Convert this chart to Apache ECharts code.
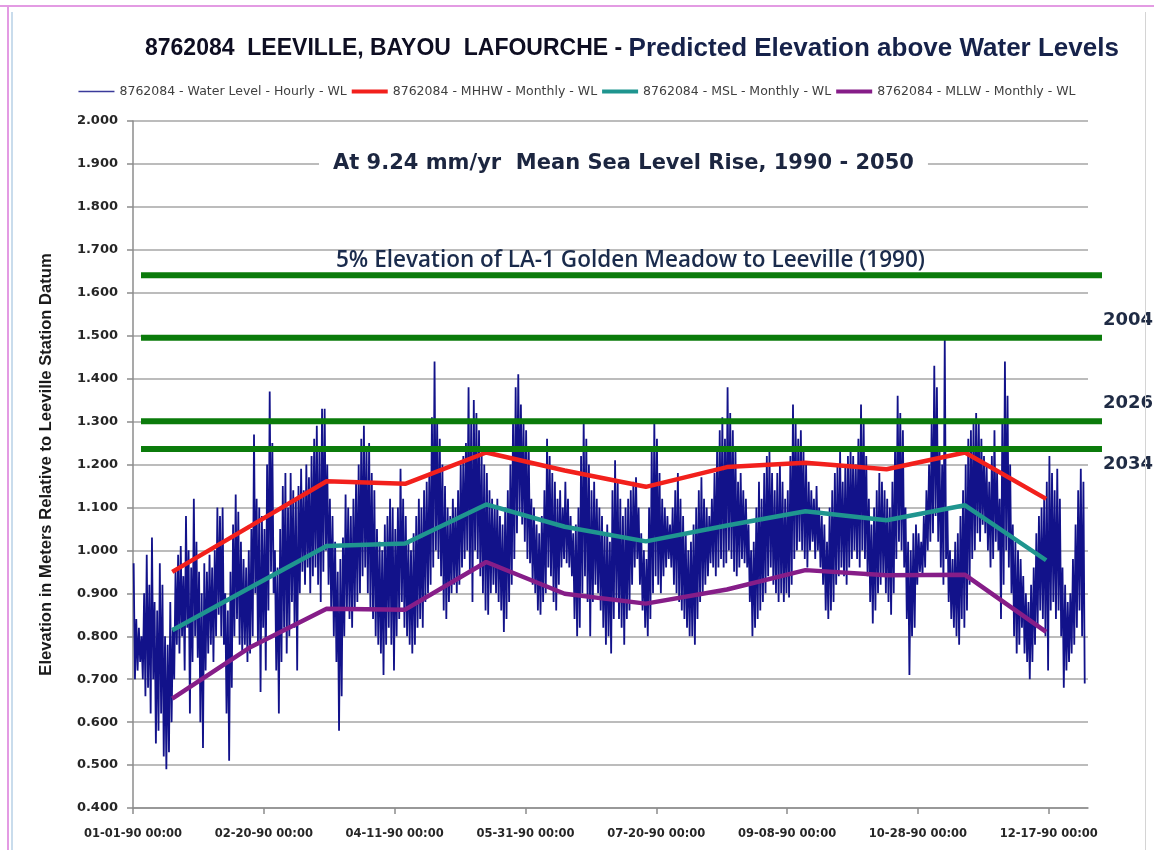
<!DOCTYPE html>
<html>
<head>
<meta charset="utf-8">
<title>8762084 Leeville, Bayou Lafourche</title>
<script src="https://cdn.jsdelivr.net/npm/echarts@6/dist/echarts.min.js"></script>
<style>
  html, body { margin: 0; padding: 0; background: #fff; }
  #chart { position: absolute; left: 0; top: 0; width: 1154px; height: 850px; }
  .edge { position: absolute; }
</style>
</head>
<body>
<div id="chart"></div>
<!-- excel selection frame -->
<div class="edge" style="left:0;top:5px;width:1154px;height:2px;background:#e39be3"></div>
<div class="edge" style="left:7px;top:5px;width:2px;height:845px;background:#e39be3"></div>
<div class="edge" style="left:11px;top:12px;width:2px;height:838px;background:#c9dcec"></div>
<div class="edge" style="left:1145px;top:12px;width:1px;height:838px;background:#d4d4d4"></div>
<script>
var dailyHigh = [
  0.97,0.84,0.82,0.80,0.90,0.99,0.92,1.03,0.88,0.86,
  0.97,0.92,0.80,0.78,0.88,0.82,0.95,0.99,1.01,0.94,
  1.08,1.00,0.96,1.12,1.02,0.95,0.90,0.97,0.95,0.99,
  0.96,1.00,1.10,1.08,1.10,0.90,0.86,0.95,1.06,1.13,
  1.09,1.02,0.98,0.96,1.00,1.05,1.27,1.12,1.10,1.08,
  1.05,1.20,1.37,1.25,1.00,0.96,1.05,1.15,1.18,1.10,
  1.18,1.14,1.12,1.15,1.19,1.14,1.20,1.17,1.22,1.26,
  1.29,1.24,1.33,1.33,1.20,1.12,1.08,1.02,0.95,0.98,
  1.03,1.13,1.10,1.08,1.12,1.16,1.20,1.26,1.29,1.24,
  1.25,1.18,1.14,1.05,1.02,1.00,1.06,1.08,1.12,1.10,
  1.05,1.10,1.19,1.12,1.08,1.02,1.00,1.04,1.08,1.12,
  1.10,1.14,1.16,1.18,1.31,1.44,1.30,1.26,1.20,1.15,
  1.10,1.08,1.12,1.10,1.14,1.20,1.22,1.25,1.38,1.30,
  1.35,1.32,1.28,1.22,1.20,1.18,1.14,1.12,1.10,1.12,
  1.08,1.06,1.10,1.14,1.20,1.30,1.38,1.41,1.34,1.30,
  1.28,1.24,1.12,1.10,1.06,1.04,1.08,1.14,1.26,1.22,
  1.18,1.16,1.12,1.14,1.10,1.16,1.12,1.08,1.04,1.06,
  1.10,1.22,1.30,1.26,1.20,1.14,1.16,1.12,1.10,1.08,
  1.04,1.06,1.02,1.14,1.21,1.16,1.12,1.08,1.10,1.12,
  1.14,1.16,1.17,1.10,1.04,1.00,0.98,1.10,1.24,1.30,
  1.26,1.18,1.12,1.10,1.08,1.06,1.10,1.14,1.18,1.12,
  1.08,1.04,1.00,1.02,1.06,1.10,1.14,1.17,1.12,1.10,
  1.08,1.12,1.18,1.24,1.28,1.31,1.26,1.38,1.32,1.28,
  1.24,1.16,1.18,1.14,1.12,1.06,1.00,1.02,1.10,1.16,
  1.12,1.18,1.22,1.23,1.18,1.14,1.18,1.20,1.16,1.12,
  1.14,1.22,1.34,1.30,1.26,1.28,1.24,1.20,1.16,1.14,
  1.12,1.15,1.10,1.08,1.06,1.02,1.10,1.14,1.18,1.20,
  1.23,1.16,1.20,1.22,1.24,1.22,1.20,1.26,1.34,1.30,
  1.22,1.12,1.06,1.10,1.14,1.18,1.16,1.14,1.12,1.10,
  1.16,1.24,1.36,1.32,1.28,1.10,1.02,1.00,1.04,1.06,
  1.04,1.02,1.08,1.14,1.20,1.30,1.43,1.38,1.24,1.20,
  1.49,1.10,1.00,0.98,1.02,1.04,1.08,1.14,1.20,1.26,
  1.28,1.30,1.32,1.30,1.26,1.22,1.20,1.16,1.22,1.28,
  1.18,1.12,1.30,1.44,1.36,1.20,1.06,1.02,1.00,0.98,
  0.94,0.90,0.88,0.92,0.96,1.04,1.08,1.10,1.12,1.16,
  1.22,1.18,1.14,1.19,1.12,0.96,0.92,0.88,0.90,0.98,
  1.06,1.14,1.19,1.16
];
var dailyLow = [
  0.70,0.72,0.74,0.70,0.66,0.68,0.62,0.70,0.55,0.58,
  0.62,0.52,0.49,0.53,0.60,0.70,0.78,0.76,0.80,0.72,
  0.82,0.62,0.74,0.80,0.75,0.60,0.54,0.72,0.76,0.78,
  0.74,0.80,0.85,0.80,0.78,0.62,0.51,0.68,0.80,0.84,
  0.78,0.76,0.78,0.74,0.76,0.80,0.90,0.78,0.67,0.82,
  0.72,0.86,0.95,0.90,0.72,0.62,0.74,0.82,0.76,0.80,
  0.88,0.82,0.72,0.90,0.95,0.92,0.96,0.90,0.94,0.96,
  0.92,0.88,0.95,1.00,0.92,0.86,0.80,0.74,0.58,0.66,
  0.80,0.86,0.84,0.82,0.86,0.88,0.90,0.94,0.96,0.90,
  0.86,0.84,0.80,0.78,0.76,0.71,0.78,0.82,0.78,0.72,
  0.80,0.84,0.88,0.82,0.80,0.78,0.76,0.78,0.82,0.84,
  0.82,0.88,0.90,0.92,0.96,1.00,0.98,0.94,0.86,0.84,
  0.88,0.90,0.92,0.90,0.92,0.96,0.98,1.00,0.95,0.88,
  1.00,0.98,0.94,0.90,0.86,0.85,0.90,0.92,0.90,0.88,
  0.86,0.81,0.84,0.88,0.92,0.98,1.04,1.08,1.06,1.02,
  0.98,0.97,0.92,0.90,0.86,0.85,0.88,0.90,0.96,0.94,
  0.88,0.86,0.92,0.96,0.98,0.97,0.96,0.94,0.84,0.80,
  0.82,0.90,0.94,0.88,0.80,0.88,0.92,0.90,0.86,0.82,
  0.78,0.80,0.76,0.84,0.88,0.84,0.82,0.78,0.84,0.86,
  0.92,0.96,0.98,0.92,0.86,0.82,0.80,0.84,0.90,0.94,
  0.92,0.90,0.94,0.96,0.98,0.96,0.92,0.90,0.88,0.86,
  0.84,0.82,0.80,0.80,0.78,0.84,0.88,0.90,0.92,0.94,
  0.97,0.96,0.94,0.96,0.98,0.96,0.97,1.00,0.98,0.95,
  0.94,0.96,0.98,0.97,0.96,0.88,0.80,0.82,0.84,0.86,
  0.88,0.90,0.94,0.96,0.92,0.90,0.88,0.90,0.88,0.90,
  0.89,0.92,0.98,1.00,1.02,1.00,0.98,0.96,1.00,1.02,
  0.98,1.00,0.96,0.92,0.86,0.84,0.86,0.88,0.92,0.94,
  0.96,0.94,0.92,0.96,0.98,1.00,0.98,0.96,1.00,0.98,
  0.94,0.88,0.83,0.86,0.90,0.92,0.94,0.90,0.88,0.85,
  0.90,0.98,1.02,1.00,0.96,0.84,0.71,0.80,0.82,0.92,
  0.95,0.94,0.96,1.00,1.02,1.04,1.08,1.02,0.96,0.92,
  0.98,0.88,0.84,0.82,0.80,0.78,0.84,0.82,0.86,0.92,
  0.98,1.00,1.04,1.02,1.06,1.04,1.00,0.96,0.98,1.02,
  1.00,0.84,0.92,1.00,0.96,0.90,0.80,0.76,0.78,0.82,
  0.76,0.74,0.70,0.74,0.78,0.82,0.86,0.84,0.80,0.72,
  0.86,0.88,0.84,0.86,0.80,0.68,0.72,0.74,0.76,0.78,
  0.82,0.86,0.80,0.69
];

// monthly tidal datums
var monthDates = ['1990-01-16','1990-02-15','1990-03-16','1990-04-15','1990-05-16','1990-06-15',
                  '1990-07-16','1990-08-16','1990-09-15','1990-10-16','1990-11-15','1990-12-16'];
var mhhw = [0.950, 1.057, 1.161, 1.155, 1.228, 1.186, 1.148, 1.194, 1.204, 1.189, 1.228, 1.120];
var msl  = [0.814, 0.914, 1.010, 1.016, 1.107, 1.055, 1.021, 1.058, 1.091, 1.070, 1.105, 0.977];
var mllw = [0.655, 0.775, 0.864, 0.862, 0.973, 0.899, 0.876, 0.909, 0.954, 0.942, 0.943, 0.810];

// projected elevation lines
var levelValues = [1.641, 1.495, 1.301, 1.236];
var levelYears  = ['', '2004', '2026', '2034'];

var xTickLabels = ['01-01-90 00:00','02-20-90 00:00','04-11-90 00:00','05-31-90 00:00',
                   '07-20-90 00:00','09-08-90 00:00','10-28-90 00:00','12-17-90 00:00'];

var START = Date.UTC(1990, 0, 1);
function hoursFromIso(s) {
  var p = s.split('-');
  return (Date.UTC(+p[0], +p[1] - 1, +p[2]) - START) / 3600000;
}
function hoursFromLabel(s) {
  var p = s.split(' ')[0].split('-');
  return (Date.UTC(1900 + +p[2], +p[0] - 1, +p[1]) - START) / 3600000;
}

var hourly = [];
dailyHigh.forEach(function (hi, d) {
  hourly.push([d * 24 + 6, hi]);
  hourly.push([d * 24 + 18, dailyLow[d]]);
});
function monthly(vals) {
  return vals.map(function (v, i) { return [hoursFromIso(monthDates[i]), v]; });
}
var tickHours = xTickLabels.map(hoursFromLabel);
var labelByHour = {};
tickHours.forEach(function (h, i) { labelByHour[h] = xTickLabels[i]; });

var NAMES = ['8762084 - Water Level - Hourly - WL', '8762084 - MHHW - Monthly - WL',
             '8762084 - MSL - Monthly - WL', '8762084 - MLLW - Monthly - WL'];

// legend swatches: thin line for hourly, thick bar for monthly
var THIN_ICON = 'path://M0,0M36,6M0,2.3L36,2.3L36,3.7L0,3.7Z';
var THICK_ICON = 'path://M0,0M36,6M0,1L36,1L36,5L0,5Z';

var levelSeries = levelValues.map(function (v, i) {
  return {
    type: 'line',
    xAxisIndex: 1,
    yAxisIndex: 1,
    silent: true,
    symbol: 'none',
    z: 5,
    lineStyle: { color: '#0b7b0b', width: 6 },
    endLabel: {
      show: levelYears[i] !== '',
      formatter: levelYears[i],
      distance: 1,
      offset: [0, i === 3 ? 15 : -18],
      fontFamily: 'DejaVu Sans',
      fontWeight: 'bold',
      fontSize: 18,
      color: '#1f2b44'
    },
    data: [[0, v], [1, v]]
  };
});

var chart = echarts.init(document.getElementById('chart'));
var option = {
  animation: false,
  backgroundColor: '#ffffff',
  title: [
    {
      left: 145,
      top: 36,
      padding: 0,
      text: '{a|8762084  LEEVILLE, BAYOU  LAFOURCHE - }{b|Predicted Elevation above Water Levels}',
      textStyle: {
        rich: {
          a: { fontFamily: 'Liberation Sans', fontWeight: 'bold', fontSize: 23, color: '#0e0e22' },
          b: { fontFamily: 'Liberation Sans', fontSize: 26, color: '#16224a' }
        }
      }
    },
    {
      left: 319,
      top: 151,
      text: 'At 9.24 mm/yr  Mean Sea Level Rise, 1990 - 2050',
      backgroundColor: '#ffffff',
      padding: [2, 14],
      textStyle: { fontFamily: 'DejaVu Sans', fontWeight: 'bold', fontSize: 21, color: '#1c2640' }
    },
    {
      left: 331,
      top: 244,
      text: '5% Elevation of LA-1 Golden Meadow to Leeville (1990)',
      textStyle: { fontFamily: 'Open Sans', fontWeight: 600, fontSize: 22.5, color: '#1a2b4c' }
    }
  ],
  legend: {
    top: 80,
    left: 'center',
    itemWidth: 36,
    itemHeight: 6,
    itemGap: 5,
    textStyle: { fontFamily: 'DejaVu Sans', fontSize: 12.5, color: '#404040' },
    data: NAMES.map(function (n, i) { return { name: n, icon: i === 0 ? THIN_ICON : THICK_ICON }; })
  },
  grid: [
    { left: 133, right: 66, top: 121, bottom: 42 },
    { left: 141, right: 52, top: 121, bottom: 42 }
  ],
  xAxis: [
    {
      type: 'value',
      min: 0,
      max: 8760,
      axisLine: { lineStyle: { color: '#8c8c8c', width: 1.5 } },
      axisTick: { customValues: tickHours, length: 6, lineStyle: { color: '#8c8c8c', width: 1.5 } },
      axisLabel: {
        customValues: tickHours,
        margin: 20,
        fontFamily: 'DejaVu Sans',
        fontWeight: 'bold',
        fontSize: 11.5,
        color: '#262626',
        formatter: function (v) { return labelByHour[v] || ''; }
      },
      splitLine: { show: false }
    },
    { gridIndex: 1, type: 'value', min: 0, max: 1, show: false }
  ],
  yAxis: [
    {
      type: 'value',
      min: 0.4,
      max: 2.0,
      interval: 0.1,
      name: 'Elevation in Meters Relative to Leeville Station Datum',
      nameLocation: 'middle',
      nameGap: 78,
      nameTextStyle: { fontFamily: 'Liberation Sans', fontWeight: 'bold', fontSize: 16.6, color: '#1a1a1a' },
      axisLine: { show: true, lineStyle: { color: '#8c8c8c', width: 1.5 } },
      axisTick: { show: true, length: 6, lineStyle: { color: '#8c8c8c', width: 1.5 } },
      axisLabel: {
        margin: 15,
        fontFamily: 'DejaVu Sans',
        fontWeight: 'bold',
        fontSize: 13,
        color: '#262626',
        formatter: function (v) { return v.toFixed(3); }
      },
      splitLine: { lineStyle: { color: '#a6a6a6', width: 1.5 } }
    },
    { gridIndex: 1, type: 'value', min: 0.4, max: 2.0, show: false }
  ],
  series: [
    {
      name: NAMES[0],
      type: 'line',
      symbol: 'none',
      z: 2,
      lineStyle: { color: '#12128a', width: 1.8 },
      itemStyle: { color: '#3a3a9a' },
      data: hourly
    },
    {
      name: NAMES[1],
      type: 'line',
      symbol: 'none',
      z: 3,
      lineStyle: { color: '#f2201c', width: 4.5 },
      itemStyle: { color: '#f2201c' },
      data: monthly(mhhw)
    },
    {
      name: NAMES[2],
      type: 'line',
      symbol: 'none',
      z: 3,
      lineStyle: { color: '#1f958f', width: 4.5 },
      itemStyle: { color: '#1f958f' },
      data: monthly(msl)
    },
    {
      name: NAMES[3],
      type: 'line',
      symbol: 'none',
      z: 3,
      lineStyle: { color: '#861d88', width: 4.5 },
      itemStyle: { color: '#861d88' },
      data: monthly(mllw)
    }
  ].concat(levelSeries)
};
chart.setOption(option);
</script>
</body>
</html>
